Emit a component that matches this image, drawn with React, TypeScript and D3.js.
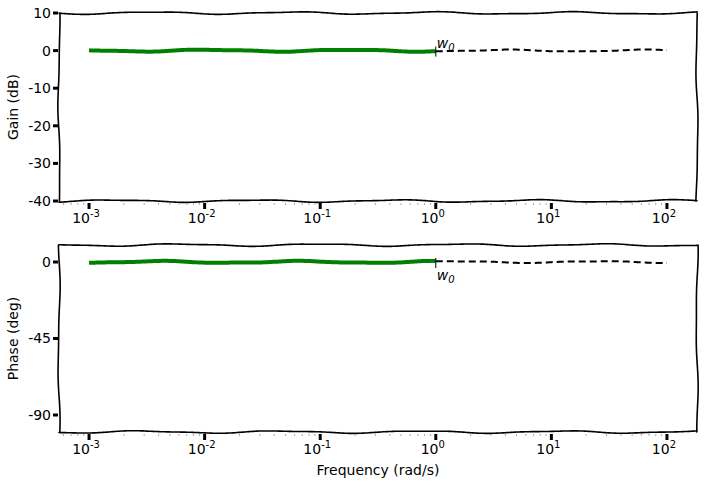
import React from "react";
import * as d3 from "d3";

const W = 704, H = 488;
const freqLow = [1e-3, 3e-3, 1e-2, 3e-2, 1e-1, 3e-1, 1];
const gainLow = [0, 0, 0, 0, 0, 0, 0];
const phaseLow = [0, 0, 0, 0, 0, 0, 0];
const freqHigh = [1, 3, 10, 30, 100];
const gainHigh = [0, 0, 0, 0, 0];
const phaseHigh = [0, 0, 0, 0, 0];
const w0 = 1;
const xTicks = [-3, -2, -1, 0, 1, 2];
const gainTicks = [10, 0, -10, -20, -30, -40];
const phaseTicks = [0, -45, -90];

const FONT = "'Comic Sans MS', 'DejaVu Sans', sans-serif";

// xkcd-style hand-drawn wobble applied in pixel space (purely stylistic)
function sketchPath(pts: [number, number][], seed: number, amp = 1.4): string {
  const out: [number, number][] = [];
  let s = 0;
  const p1 = seed * 1.7, p2 = seed * 2.9;
  for (let i = 0; i < pts.length - 1; i++) {
    const [x0, y0] = pts[i], [x1, y1] = pts[i + 1];
    const len = Math.hypot(x1 - x0, y1 - y0);
    const n = Math.max(1, Math.ceil(len / 2));
    const nx = -(y1 - y0) / (len || 1), ny = (x1 - x0) / (len || 1);
    for (let j = 0; j <= n; j++) {
      if (i > 0 && j === 0) continue;
      const t = j / n;
      const ss = s + t * len;
      const off = amp * (0.75 * Math.sin(ss / 140 * 2 * Math.PI + p1) + 0.25 * Math.sin(ss / 65 * 2 * Math.PI + p2));
      out.push([x0 + (x1 - x0) * t + nx * off, y0 + (y1 - y0) * t + ny * off]);
    }
    s += len;
  }
  return d3.line()(out) || "";
}

function Panel({ top, bottom, yDomain, yTicks, ylabel, low, high, w0Below, id }) {
  const left = 59, right = 697;
  const x = d3.scaleLog().domain([10 ** -3.26, 10 ** 2.26]).range([left, right]);
  const y = d3.scaleLinear().domain(yDomain).range([bottom, top]);
  const px = (d: [number, number][]) => d.map(p => [x(p[0]), y(p[1])] as [number, number]);
  const minor: number[] = [];
  for (let e = -4; e <= 2; e++) for (let k = 2; k <= 9; k++) {
    const v = k * 10 ** e;
    if (x(v) > left && x(v) < right) minor.push(v);
  }
  const yw = y(0);
  return (
    <g>
      <g fill="none" stroke="#000" strokeWidth={1.6} strokeLinecap="round">
        <path d={sketchPath([[left, top], [right, top]], id * 3 + 1)} />
        <path d={sketchPath([[left, bottom], [right, bottom]], id * 3 + 2)} />
        <path d={sketchPath([[left, top], [left, bottom]], id * 3 + 3, 1.2)} />
        <path d={sketchPath([[right, top], [right, bottom]], id * 3 + 4, 1.2)} />
      </g>
      <path d={sketchPath(px(low), id * 5 + 2, 1.2)} fill="none" stroke="#008000" strokeWidth={4} />
      <path d={sketchPath(px(high), id * 5 + 7, 1.1)} fill="none" stroke="#000" strokeWidth={2} strokeDasharray="7,4" />
      <line x1={x(w0)} x2={x(w0)} y1={yw - 4} y2={yw + 6} stroke="#000" strokeWidth={1} />
      {yTicks.map(t => (
        <g key={t}>
          <line x1={left - 6} x2={left - 1} y1={y(t)} y2={y(t)} stroke="#000" strokeWidth={3} />
          <text x={51} y={y(t)} dy="0.35em" textAnchor="end" fontSize={14} fontFamily={FONT}>{t}</text>
        </g>
      ))}
      {xTicks.map(e => (
        <g key={e}>
          <line x1={x(10 ** e)} x2={x(10 ** e)} y1={bottom + 2} y2={bottom + 8} stroke="#000" strokeWidth={3} />
          <text x={x(10 ** e) - 3} y={bottom + 22} textAnchor="middle" fontSize={14} fontFamily={FONT}>
            10<tspan dy={-6} fontSize={10}>{e}</tspan>
          </text>
        </g>
      ))}
      {minor.map(v => (
        <line key={v} x1={x(v)} x2={x(v)} y1={bottom + 2} y2={bottom + 4} stroke="#aaa" strokeWidth={1} />
      ))}
      <text transform={`translate(18,${(top + bottom) / 2}) rotate(-90)`} textAnchor="middle" fontSize={14} fontFamily={FONT}>
        {ylabel}
      </text>
      <text x={x(w0) + 1} y={w0Below ? yw + 18 : yw - 3} fontSize={14} fontStyle="italic" fontFamily={FONT}>
        w<tspan dy={3} fontSize={10}>0</tspan>
      </text>
    </g>
  );
}

export default function App() {
  const zip = (a: number[], b: number[]) => a.map((v, i) => [v, b[i]] as [number, number]);
  return (
    <svg width={W} height={H} style={{ position: "absolute", left: 0, top: 0, background: "#fff" }}>
      <Panel id={1} top={13} bottom={201} yDomain={[-40, 10]} yTicks={gainTicks} ylabel="Gain (dB)"
        low={zip(freqLow, gainLow)} high={zip(freqHigh, gainHigh)} w0Below={false} />
      <Panel id={2} top={245} bottom={432} yDomain={[-100, 10]} yTicks={phaseTicks} ylabel="Phase (deg)"
        low={zip(freqLow, phaseLow)} high={zip(freqHigh, phaseHigh)} w0Below={true} />
      <text x={378} y={475} textAnchor="middle" fontSize={14} fontFamily={FONT}>Frequency (rad/s)</text>
    </svg>
  );
}
